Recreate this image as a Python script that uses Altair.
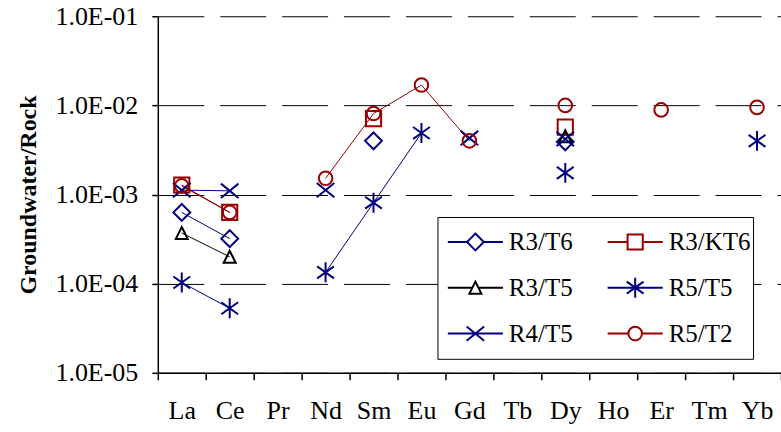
import altair as alt
import pandas as pd

elements = ["La", "Ce", "Pr", "Nd", "Sm", "Eu", "Gd", "Tb", "Dy", "Ho", "Er", "Tm", "Yb"]

# legend order (column-major in 2 columns)
series_names = ["R3/T6", "R3/T5", "R4/T5", "R3/KT6", "R5/T5", "R5/T2"]
series_colors = ["#000080", "#000000", "#000080", "#990000", "#000080", "#990000"]

r3_t6 = [6.3e-4, 3.2e-4, None, None, 4.0e-3, None, None, None, 3.9e-3, None, None, None, None]
r3_kt6 = [1.28e-3, 6.3e-4, None, None, 7.1e-3, None, None, None, 5.7e-3, None, None, None, None]
r3_t5 = [3.7e-4, 2.0e-4, None, None, None, None, None, None, 4.5e-3, None, None, None, None]
r5_t5 = [1.03e-4, 5.3e-5, None, 1.34e-4, 8.1e-4, 4.9e-3, None, None, 1.75e-3, None, None, None, 4.0e-3]
r4_t5 = [1.12e-3, 1.1e-3, None, 1.12e-3, None, None, 4.3e-3, None, 4.2e-3, None, None, None, None]
r5_t2 = [1.25e-3, 6.3e-4, None, 1.52e-3, 8.1e-3, 1.69e-2, 4.0e-3, None, 1.0e-2, None, 8.9e-3, None, 9.5e-3]

series_values = {
    "R3/T6": r3_t6, "R3/KT6": r3_kt6, "R3/T5": r3_t5,
    "R5/T5": r5_t5, "R4/T5": r4_t5, "R5/T2": r5_t2,
}
draw_order = ["R3/T6", "R3/KT6", "R3/T5", "R5/T5", "R4/T5", "R5/T2"]

y_ticks = [1e-5, 1e-4, 1e-3, 1e-2, 1e-1]

# marker shapes (unit box), and legend versions with line segments
marker_paths = {
    "R3/T6": "M0,-1.05L1.05,0L0,1.05L-1.05,0Z",
    "R3/KT6": "M-0.95,-0.95H0.95V0.95H-0.95Z",
    "R3/T5": "M0,-0.75L0.75,0.75L-0.75,0.75Z",
    "R5/T5": "M0,-1.25V1.25M-1.05,-0.75L1.05,0.75M-1.05,0.75L1.05,-0.75",
    "R4/T5": "M-1.1,-0.9L1.1,0.9M-1.1,0.9L1.1,-0.9",
    "R5/T2": "M0.85,0A0.85,0.85 0 1,1 -0.85,0A0.85,0.85 0 1,1 0.85,0Z",
}
edge = {"R3/T6": 1.05, "R3/KT6": 0.95, "R3/T5": 0.4, "R5/T5": 0.0, "R4/T5": 0.0, "R5/T2": 0.85}
legend_paths = {
    k: marker_paths[k] + f"M-3.45,0H{-edge[k]}M{edge[k]},0H3.45" for k in series_names
}

rows = []
for s in draw_order:
    seg = 0
    for el, v in zip(elements, series_values[s]):
        if v is None:
            seg += 1
            continue
        rows.append({"element": el, "value": v, "series": s, "seg": f"{s}-{seg}"})
df = pd.DataFrame(rows)

font = "Liberation Serif"

x_enc = alt.X(
    "element:N",
    sort=elements,
    scale=alt.Scale(type="band", domain=elements, paddingInner=0, paddingOuter=0),
    axis=alt.Axis(
        title=None, labelAngle=0, labelFont=font, labelFontSize=26, labelColor="black",
        labelPadding=18, tickBand="extent", tickSize=7, tickColor="black", tickWidth=1.5,
        domainColor="black", domainWidth=1.5, grid=False,
    ),
)
y_enc = alt.Y(
    "value:Q",
    scale=alt.Scale(type="log", domain=[1e-5, 1e-1]),
    axis=alt.Axis(
        values=y_ticks,
        labelExpr="'1.0E-0' + format(round(-log(datum.value)/LN10), 'd')",
        title="Groundwater/Rock", titleFont=font, titleFontSize=24, titleFontWeight="bold",
        titleColor="black", titlePadding=14,
        labelFont=font, labelFontSize=26, labelColor="black", labelPadding=14,
        tickSize=6, tickColor="black", tickWidth=1.5,
        domainColor="black", domainWidth=1.5,
        grid=True, gridDash=[46, 16], gridColor="black", gridWidth=1,
    ),
)

color_scale = alt.Scale(domain=series_names, range=series_colors)

lines = alt.Chart(df).mark_line(strokeWidth=1).encode(
    x=x_enc, y=y_enc,
    color=alt.Color("series:N", scale=color_scale, legend=None),
    detail="seg:N",
)

points = alt.Chart(df).mark_point(filled=False, strokeWidth=2, size=256, opacity=1).encode(
    x=x_enc, y=y_enc,
    color=alt.Color("series:N", scale=color_scale, legend=None),
    shape=alt.Shape("series:N", scale=alt.Scale(domain=series_names,
                                                range=[marker_paths[k] for k in series_names]),
                    legend=None),
)

leg = alt.Legend(
    orient="none", legendX=280, legendY=201, columns=2, title=None,
    labelFont=font, labelFontSize=25, labelColor="black",
    strokeColor="black", fillColor="white", padding=2,
    symbolSize=256, symbolStrokeWidth=2, symbolOffset=23.5, labelOffset=21,
    clipHeight=45.5, rowPadding=0, columnPadding=26,
)

legend_layer = alt.Chart(df).transform_filter("false").mark_point(
    filled=False, strokeWidth=2, size=256, opacity=1
).encode(
    x=x_enc, y=y_enc,
    color=alt.Color("series:N", scale=color_scale, legend=leg),
    shape=alt.Shape("series:N", scale=alt.Scale(domain=series_names,
                                                range=[legend_paths[k] for k in series_names]),
                    legend=leg),
)

chart = alt.layer(lines, points, legend_layer).resolve_scale(
    color="independent", shape="independent"
).properties(
    width=624, height=357, autosize="none",
    padding={"left": 158, "top": 16, "right": 0, "bottom": 59},
    background="white",
).configure(font=font).configure_view(stroke=None)

chart.save("out.html", embed_options={"renderer": "svg", "actions": False})
